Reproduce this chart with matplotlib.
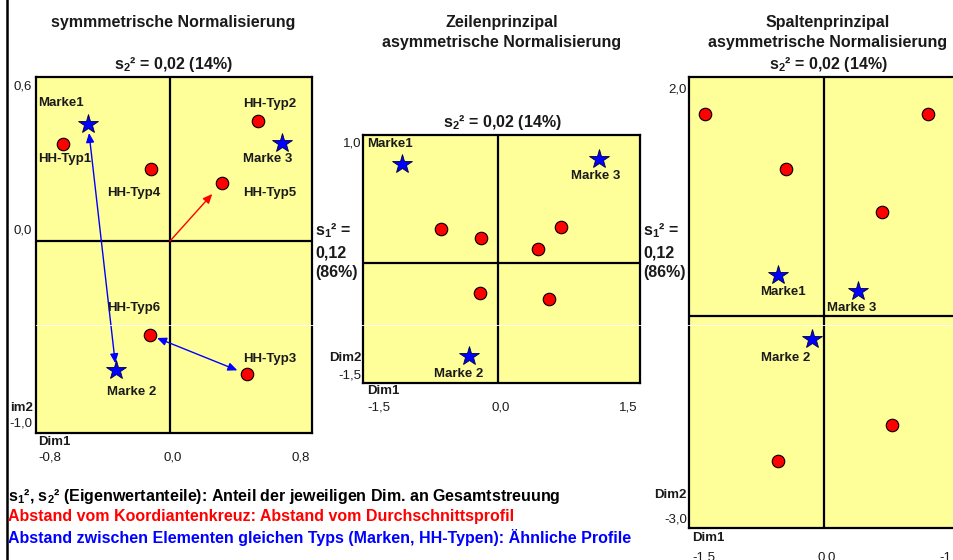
import matplotlib
matplotlib.use('Agg')
import matplotlib.pyplot as plt
from matplotlib.lines import Line2D

plt.rcParams['font.family'] = ['Liberation Sans', 'DejaVu Sans']
plt.rcParams['mathtext.fontset'] = 'custom'
plt.rcParams['mathtext.bf'] = 'Liberation Sans:bold'
plt.rcParams['mathtext.rm'] = 'Liberation Sans'

W, H = 954, 560
YELLOW = '#FFFF99'

# ---------------- data ----------------
hh_names = ['HH-Typ1', 'HH-Typ2', 'HH-Typ3', 'HH-Typ4', 'HH-Typ5', 'HH-Typ6']
mk_names = ['Marke1', 'Marke 2', 'Marke 3']

# panel 1: symmetrische Normalisierung
sym_xlim = (-0.755, 0.8)
sym_ylim = (-0.702, 0.6)
sym_xticklabels = ['-0,8', '0,0', '0,8']
sym_yticklabels = ['-1,0', '0,0', '0,6']
sym_hh_x = [-0.603, 0.496, 0.434, -0.107, 0.293, -0.113]
sym_hh_y = [0.355, 0.440, -0.487, 0.263, 0.212, -0.344]
sym_mk_x = [-0.462, -0.304, 0.631]
sym_mk_y = [0.428, -0.472, 0.358]

# panel 2: Zeilenprinzipal
row_xlim = (-1.426, 1.5)
row_ylim = (-0.9375, 1.0)
row_xticklabels = ['-1,5', '0,0', '1,5']
row_yticklabels = ['-1,5', '1,0']
row_hh_x = [-0.602, -0.180, 0.665, 0.422, -0.190, 0.539]
row_hh_y = [0.266, 0.195, 0.281, 0.109, -0.234, -0.281]
row_mk_x = [-1.014, -0.306, 1.067]
row_mk_y = [0.773, -0.727, 0.8125]

# panel 3: Spaltenprinzipal
col_xlim = (-1.5, 1.567)
col_ylim = (-1.767, 2.0)
col_xticklabels = ['-1,5', '0,0', '-1,5']
col_yticklabels = ['-3,0', '2,0']
col_hh_x = [-1.322, 1.156, -0.422, 0.644, 0.756, -0.511]
col_hh_y = [1.691, 1.691, 1.232, 0.873, -0.906, -1.207]
col_mk_x = [-0.511, -0.133, 0.378]
col_mk_y = [0.347, -0.188, 0.213]

s2_text = 's$_\\mathbf{2}$² = 0,02 (14%)'
s1_lines = ['s$_\\mathbf{1}$² =', '0,12', '(86%)']
notes = ['s$_\\mathbf{1}$², s$_\\mathbf{2}$² (Eigenwertanteile): Anteil der jeweiligen Dim. an Gesamtstreuung',
         'Abstand vom Koordiantenkreuz: Abstand vom Durchschnittsprofil',
         'Abstand zwischen Elementen gleichen Typs (Marken, HH-Typen): Ähnliche Profile']
note_colors = ['black', '#FF0000', '#0000FF']

# label offsets in pixels (dx, dy, ha)
sym_hh_off = [(-25, -15, 'left'), (-15, 17, 'left'), (-4, 15, 'left'),
              (-44, -24, 'left'), (21, -10, 'left'), (-43, 27, 'left')]
sym_mk_off = [(-50, 21, 'left'), (-9, -22, 'left'), (-39, -16, 'left')]
row_mk_off = [(-35, 20, 'left'), (-10, -18, 'center'), (-3, -17, 'center')]
col_mk_off = [(5, -17, 'center'), (-26, -19, 'center'), (-6, -17, 'center')]


def fx(px):
    return px / W


def fy(py):
    return 1 - py / H


fig = plt.figure(figsize=(W / 100, H / 100), dpi=100, facecolor='white')


def make_panel(left, top, right, bottom, xlim, ylim):
    ax = fig.add_axes([fx(left), fy(bottom), (right - left) / W, (bottom - top) / H])
    ax.set_facecolor(YELLOW)
    ax.set_xlim(xlim)
    ax.set_ylim(ylim)
    ax.set_xticks([])
    ax.set_yticks([])
    for sp in ax.spines.values():
        sp.set_linewidth(1.6)
        sp.set_color('black')
    ax.axhline(0, color='black', lw=1.6, zorder=1)
    ax.axvline(0, color='black', lw=1.6, zorder=1)
    return ax


def points(ax, hx, hy, mx, my):
    ax.plot(hx, hy, 'o', ms=9, mfc='#FF0000', mec='black', mew=0.8, zorder=4, clip_on=False)
    ax.plot(mx, my, '*', ms=15, mfc='#0000FF', mec='#000033', mew=0.6, zorder=4, clip_on=False)


def label(ax, text, x, y, off, size=9.5):
    dx, dy, ha = off
    ax.annotate(text, (x, y), xytext=(dx, dy), textcoords='offset pixels', ha=ha, va='center',
                fontsize=size, fontweight='bold', color='#1a1a1a', annotation_clip=False, zorder=5)


def tick(ax, text, x, y, coords, dx, dy, ha, bold=False):
    ax.annotate(text, xy=(x, y), xycoords=coords, xytext=(dx, dy), textcoords='offset pixels',
                ha=ha, va='center', fontsize=9.5, fontweight='bold' if bold else 'normal',
                color='#1a1a1a', annotation_clip=False)


XC = ('data', 'axes fraction')
YC = ('axes fraction', 'data')

# ---------------- panel 1 ----------------
ax1 = make_panel(36, 77, 312, 433, sym_xlim, sym_ylim)
points(ax1, sym_hh_x, sym_hh_y, sym_mk_x, sym_mk_y)
for n, x, y, o in zip(hh_names, sym_hh_x, sym_hh_y, sym_hh_off):
    label(ax1, n, x, y, o)
for n, x, y, o in zip(mk_names, sym_mk_x, sym_mk_y, sym_mk_off):
    label(ax1, n, x, y, o)

head = 'head_length=0.5,head_width=0.22'
ax1.annotate('', xy=(sym_hh_x[4], sym_hh_y[4]), xytext=(0, 0),
             arrowprops=dict(arrowstyle='-|>,' + head, color='#FF0000', lw=1.0,
                             shrinkA=0, shrinkB=10.5, mutation_scale=11), zorder=3)
ax1.annotate('', xy=(sym_mk_x[1], sym_mk_y[1]), xytext=(sym_mk_x[0], sym_mk_y[0]),
             arrowprops=dict(arrowstyle='<|-|>,' + head, color='#0000FF', lw=1.0,
                             shrinkA=6.5, shrinkB=5, mutation_scale=11), zorder=3)
ax1.annotate('', xy=(sym_hh_x[2], sym_hh_y[2]), xytext=(sym_hh_x[5], sym_hh_y[5]),
             arrowprops=dict(arrowstyle='<|-|>,' + head, color='#0000FF', lw=1.0,
                             shrinkA=5.5, shrinkB=7.5, mutation_scale=11), zorder=3)

tick(ax1, sym_xticklabels[0], sym_xlim[0], 0, XC, 2, -25, 'left')
tick(ax1, sym_xticklabels[1], 0, 0, XC, 3, -25, 'center')
tick(ax1, sym_xticklabels[2], sym_xlim[1], 0, XC, -2, -25, 'right')
tick(ax1, 'Dim1', sym_xlim[0], 0, XC, 2, -9, 'left', bold=True)
tick(ax1, sym_yticklabels[2], 0, sym_ylim[1], YC, -4, -9, 'right')
tick(ax1, sym_yticklabels[1], 0, 0, YC, -4, 11, 'right')
tick(ax1, sym_yticklabels[0], 0, sym_ylim[0], YC, -4, 9, 'right')
tick(ax1, 'im2', 0, sym_ylim[0], YC, -3, 25, 'right', bold=True)

# ---------------- panel 2 ----------------
ax2 = make_panel(363, 135, 640, 383, row_xlim, row_ylim)
points(ax2, row_hh_x, row_hh_y, row_mk_x, row_mk_y)
for n, x, y, o in zip(mk_names, row_mk_x, row_mk_y, row_mk_off):
    label(ax2, n, x, y, o)
tick(ax2, row_xticklabels[0], row_xlim[0], 0, XC, 4, -24, 'left')
tick(ax2, row_xticklabels[1], 0, 0, XC, 3, -24, 'center')
tick(ax2, row_xticklabels[2], row_xlim[1], 0, XC, -3, -24, 'right')
tick(ax2, 'Dim1', row_xlim[0], 0, XC, 4, -8, 'left', bold=True)
tick(ax2, row_yticklabels[1], 0, row_ylim[1], YC, -2, -9, 'right')
tick(ax2, row_yticklabels[0], 0, row_ylim[0], YC, -2, 8, 'right')
tick(ax2, 'Dim2', 0, row_ylim[0], YC, -2, 25, 'right', bold=True)

# ---------------- panel 3 ----------------
ax3 = make_panel(689, 77, 965, 528, col_xlim, col_ylim)
points(ax3, col_hh_x, col_hh_y, col_mk_x, col_mk_y)
for n, x, y, o in zip(mk_names, col_mk_x, col_mk_y, col_mk_off):
    label(ax3, n, x, y, o)
tick(ax3, col_xticklabels[0], col_xlim[0], 0, XC, 3, -29, 'left')
tick(ax3, col_xticklabels[1], 0, 0, XC, 3, -29, 'center')
tick(ax3, col_xticklabels[2], col_xlim[1], 0, XC, -3, -29, 'right')
tick(ax3, 'Dim1', col_xlim[0], 0, XC, 3, -10, 'left', bold=True)
tick(ax3, col_yticklabels[1], 0, col_ylim[1], YC, -2, -13, 'right')
tick(ax3, col_yticklabels[0], 0, col_ylim[0], YC, -2, 9, 'right')
tick(ax3, 'Dim2', 0, col_ylim[0], YC, -2, 33, 'right', bold=True)

# ---------------- titles and texts ----------------
tkw = dict(ha='center', va='center', fontsize=11.5, fontweight='bold', color='#1a1a1a')
fig.text(fx(173), fy(23), 'symmmetrische Normalisierung', **tkw)
fig.text(fx(173), fy(65), s2_text, **tkw)
fig.text(fx(502), fy(23), 'Zeilenprinzipal', **tkw)
fig.text(fx(502), fy(43), 'asymmetrische Normalisierung', **tkw)
fig.text(fx(502), fy(122), s2_text, **tkw)
fig.text(fx(828), fy(23), 'Spaltenprinzipal', **tkw)
fig.text(fx(828), fy(43), 'asymmetrische Normalisierung', **tkw)
fig.text(fx(828), fy(64), s2_text, **tkw)

for x0 in (315, 643):
    for txt, yy in zip(s1_lines, (231, 253, 273)):
        fig.text(fx(x0), fy(yy), txt, ha='left', va='center', fontsize=11.5,
                 fontweight='bold', color='#1a1a1a')

for txt, c, yy in zip(notes, note_colors, (496, 517, 537)):
    fig.text(fx(8), fy(yy), txt, ha='left', va='center', fontsize=11.5, fontweight='bold', color=c)

# left border and faint white scan line
fig.add_artist(Line2D([fx(7), fx(7)], [0, 1], color='black', lw=1.8, transform=fig.transFigure))
fig.add_artist(Line2D([fx(36), 1], [fy(325), fy(325)], color='white', lw=0.6,
                      transform=fig.transFigure, zorder=10))

fig.savefig('out.png', dpi=100, facecolor='white')
